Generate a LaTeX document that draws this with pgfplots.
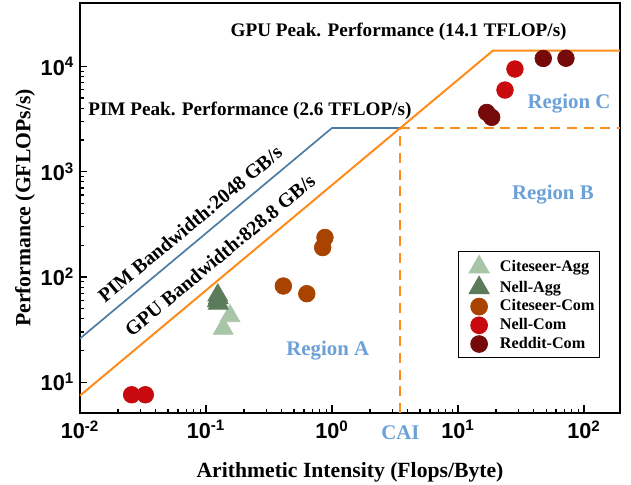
\documentclass[border=0pt]{standalone}
\usepackage{fontspec}
\setmainfont{Liberation Serif}
\newfontfamily\tickfont{Liberation Sans}
\usepackage{pgfplots}
\pgfplotsset{compat=1.18}
\definecolor{roofor}{HTML}{FF8C1A}
\definecolor{roofbl}{HTML}{4A7AA6}
\definecolor{regtxt}{HTML}{6CA0D8}
\definecolor{cagg}{HTML}{A9C5A8}
\definecolor{nagg}{HTML}{5B7B5A}
\definecolor{ccom}{HTML}{A84300}
\definecolor{ncom}{HTML}{C8090E}
\definecolor{rcom}{HTML}{760A0A}
\newcommand{\tl}[1]{{\tickfont\bfseries 10\textsuperscript{#1}}}
\begin{document}
\begin{tikzpicture}
\path[use as bounding box] (-48pt,-43.2pt) rectangle (330.6pt,247.8pt);
\begin{axis}[
 at={(0,0)}, anchor=south west,
 scale only axis, width=324pt, height=246pt,
 clip=false,
 xmode=log, ymode=log,
 xmin=0.01, xmax=193, ymin=5.1, ymax=40000,
 xtick={0.01,0.1,1,10,100},
 xticklabels={\tl{-2},\tl{-1},\tl{0},\tl{1},\tl{2}},
 ytick={10,100,1000,10000},
 yticklabels={\tl{1},\tl{2},\tl{3},\tl{4}},
 ticklabel style={font=\fontsize{13}{15}\selectfont},
 xticklabel style={yshift=-1pt},
 tick align=inside, xtick pos=left, ytick pos=left,
 major tick length=4.5pt, minor tick length=2.5pt,
 axis line style={line width=0.9pt},
 every tick/.style={line width=0.7pt, black},
 xlabel={Arithmetic Intensity (Flops/Byte)},
 ylabel={Performance (GFLOPs/s)},
 label style={font=\fontsize{13}{15}\selectfont\bfseries},
 xlabel style={at={(axis description cs:0.5,-0.1455)}, anchor=center},
 ylabel style={at={(axis description cs:-0.1019,0.5)}, anchor=center},
 legend style={at={(0.963,0.134)}, anchor=south east, draw=black, line width=0.6pt,
   font=\fontsize{9.7}{11.5}\selectfont\bfseries, row sep=0pt, inner xsep=1.5pt, inner ysep=2.5pt,
   nodes={inner sep=1.5pt}},
 legend image code/.code={\path[draw=none,fill=none] (0pt,-3pt) (22pt,3pt); \draw[#1] plot coordinates {(11pt,0pt)};},
 legend cell align=left,
]
% roofs
\addplot[roofbl, line width=1pt, forget plot] coordinates {(0.01,26) (1,2600) (3.49,2600)};
\addplot[roofor, line width=1.2pt, forget plot] coordinates {(0.01,7.46) (18.9,14100) (193,14100)};
\addplot[roofor, line width=1.2pt, dash pattern=on 6pt off 4pt, forget plot] coordinates {(3.49,5.1) (3.49,2600)};
\addplot[roofor, line width=1.2pt, dash pattern=on 6pt off 4pt, forget plot] coordinates {(3.49,2600) (193,2600)};
% data
\addplot[only marks, mark=triangle*, mark size=6.9pt, mark options={draw=cagg, fill=cagg}]
 coordinates {(0.155,42.6) (0.137,32.3)};
\addlegendentry{Citeseer-Agg}
\addplot[only marks, mark=triangle*, mark size=6.9pt, mark options={draw=nagg, fill=nagg}]
 coordinates {(0.124,67) (0.125,63) (0.123,59) (0.125,56)};
\addlegendentry{Nell-Agg}
\addplot[only marks, mark=*, mark size=5pt, mark options={draw=ccom, fill=ccom}]
 coordinates {(0.411,82) (0.631,69.3) (0.843,190) (0.879,237)};
\addlegendentry{Citeseer-Com}
\addplot[only marks, mark=*, mark size=5pt, mark options={draw=ncom, fill=ncom}]
 coordinates {(0.0257,7.6) (0.0330,7.6) (23.6,5960) (28.3,9440)};
\addlegendentry{Nell-Com}
\addplot[only marks, mark=*, mark size=5pt, mark options={draw=rcom, fill=rcom}]
 coordinates {(16.9,3650) (18.5,3280) (47.5,11900) (71.9,11950)};
\addlegendentry{Reddit-Com}
% annotations
\node[font=\fontsize{11.5}{13}\selectfont\bfseries] at (axis cs:3.38,21540) {GPU Peak. Performance (14.1 TFLOP/s)};
\node[font=\fontsize{11.5}{13}\selectfont\bfseries, anchor=west, inner sep=0pt] at (axis cs:0.01157,3787) {PIM Peak. Performance (2.6 TFLOP/s)};
\node[font=\fontsize{12}{14}\selectfont\bfseries, rotate=39.8] at (axis cs:0.0746,318) {PIM Bandwidth:2048 GB/s};
\node[font=\fontsize{12}{14}\selectfont\bfseries, rotate=39.8] at (axis cs:0.129,161) {GPU Bandwidth:828.8 GB/s};
\node[font=\fontsize{12.5}{14}\selectfont\bfseries, text=regtxt] at (axis cs:0.925,20) {Region A};
\node[font=\fontsize{12.5}{14}\selectfont\bfseries, text=regtxt] at (axis cs:56.6,609) {Region B};
\node[font=\fontsize{12.5}{14}\selectfont\bfseries, text=regtxt] at (axis cs:76,4450) {Region C};
\node[font=\fontsize{12.5}{14}\selectfont\bfseries, text=regtxt, yshift=-11.6pt] at (axis cs:3.49,5.1) {CAI};
\end{axis}
\end{tikzpicture}
\end{document}
